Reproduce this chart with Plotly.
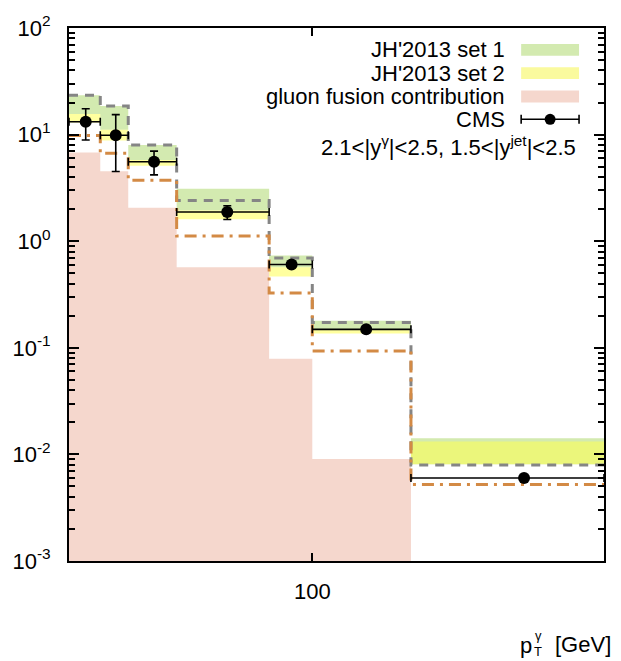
import plotly.graph_objects as go

# pT bin edges [GeV]
edges = [40, 45, 50, 60, 85, 100, 145, 300]

# JH'2013 set 1 band (upper / lower)
set1_hi = [23.4, 18.5, 7.97, 3.10, 0.733, 0.179, 0.0142]
set1_lo = [15.6, 11.1, 5.78, 1.94, 0.570, 0.150, 0.0081]
# JH'2013 set 2 band (upper / lower)
set2_hi = [15.6, 11.1, 5.78, 1.94, 0.570, 0.150, 0.0132]
set2_lo = [13.0, 8.8, 5.11, 1.61, 0.467, 0.136, 0.0081]
# additional predictions drawn as step lines
gray_line = [23.4, 18.5, 7.97, 2.41, 0.696, 0.173, 0.00795]
orange_line = [9.8, 6.67, 3.74, 1.12, 0.327, 0.0935, 0.00521]
# gluon fusion contribution (first six bins)
gluon = [6.81, 4.53, 2.06, 0.570, 0.0788, 0.00904]

# CMS data
cms_x = [42.6, 47.7, 55.1, 72.6, 92.5, 122.5, 222.0]
cms_y = [13.2, 9.87, 5.57, 1.88, 0.604, 0.149, 0.00601]
cms_up = [4.3, 5.53, 1.43, 0.27, 0.03, 0.006, 0.0002]
cms_dn = [4.3, 5.37, 1.38, 0.28, 0.03, 0.006, 0.0002]

x_ticks = [100]
y_ticks = [1e-3, 1e-2, 1e-1, 1e0, 1e1, 1e2]
y_ticktext = ["10<sup>-3</sup>", "10<sup>-2</sup>", "10<sup>-1</sup>",
              "10<sup>0</sup>", "10<sup>1</sup>", "10<sup>2</sup>"]
y_minor = [k * 10.0 ** e for e in range(-3, 2) for k in range(2, 10)]

GREEN = "#d3eab0"
YELLOW = "rgba(255,255,80,0.55)"
PINK = "#f5d7cd"
GRAY = "#858585"
ORANGE = "#d38a45"
FONT = "Liberation Sans, Arial, sans-serif"

L, R, T, B = 68, 604, 24, 561
W_PLOT = R - L
H_PLOT = B - T


def steps(vals):
    xs, ys = [], []
    for i, v in enumerate(vals):
        xs += [edges[i], edges[i + 1]]
        ys += [v, v]
    return xs, ys


fig = go.Figure()

# gluon fusion histogram filled down to the axis
gx, gy = steps(gluon)
gx = gx + [gx[-1], gx[0]]
gy = gy + [1e-3, 1e-3]
fig.add_trace(go.Scatter(x=gx, y=gy, fill="toself", fillcolor=PINK,
                         line=dict(width=0), mode="lines", hoverinfo="skip"))


def band(hi, lo, color):
    xh, yh = steps(hi)
    xl, yl = steps(lo)
    fig.add_trace(go.Scatter(x=xh, y=yh, mode="lines", line=dict(width=0),
                             hoverinfo="skip"))
    fig.add_trace(go.Scatter(x=xl, y=yl, mode="lines", line=dict(width=0),
                             fill="tonexty", fillcolor=color, hoverinfo="skip"))


band(set1_hi, set1_lo, GREEN)
band(set2_hi, set2_lo, YELLOW)

sx, sy = steps(gray_line)
fig.add_trace(go.Scatter(x=sx, y=sy, mode="lines",
                         line=dict(color=GRAY, width=3, dash="9px,7px")))
sx, sy = steps(orange_line)
fig.add_trace(go.Scatter(x=sx, y=sy, mode="lines",
                         line=dict(color=ORANGE, width=3, dash="12px,6px,3px,6px")))

# CMS points with bin-width horizontal bars
xlo = [cms_x[i] - edges[i] for i in range(len(cms_x))]
xhi = [edges[i + 1] - cms_x[i] for i in range(len(cms_x))]
fig.add_trace(go.Scatter(
    x=cms_x, y=cms_y, mode="markers",
    marker=dict(color="black", size=12, symbol="circle"),
    error_y=dict(type="data", symmetric=False, array=cms_up, arrayminus=cms_dn,
                 color="black", thickness=1.6, width=4),
    error_x=dict(type="data", symmetric=False, array=xhi, arrayminus=xlo,
                 color="black", thickness=1.6, width=4),
))


def px(xp):
    return (xp - L) / W_PLOT


def py(yp):
    return (B - yp) / H_PLOT


shapes = []
annotations = []

rows = [("JH'2013 set 1", 46, GREEN), ("JH'2013 set 2", 69.5, "#fafa9e"),
        ("gluon fusion contribution", 93, PINK)]
for text, yc, col in rows:
    annotations.append(dict(x=px(507), y=py(yc), xref="paper", yref="paper",
                            text=text, showarrow=False, xanchor="right",
                            yanchor="middle", font=dict(size=22, color="black", family=FONT)))
    shapes.append(dict(type="rect", xref="paper", yref="paper",
                       x0=px(521), x1=px(579), y0=py(yc + 6), y1=py(yc - 6),
                       fillcolor=col, line=dict(width=0)))

yc = 116
annotations.append(dict(x=px(507), y=py(yc), xref="paper", yref="paper",
                        text="CMS", showarrow=False, xanchor="right",
                        yanchor="middle", font=dict(size=22, color="black", family=FONT)))
shapes.append(dict(type="line", xref="paper", yref="paper", x0=px(521), x1=px(579),
                   y0=py(yc), y1=py(yc), line=dict(color="black", width=1.6)))
for xe in (521, 579):
    shapes.append(dict(type="line", xref="paper", yref="paper", x0=px(xe), x1=px(xe),
                       y0=py(yc - 4.5), y1=py(yc + 4.5), line=dict(color="black", width=1.6)))
shapes.append(dict(type="circle", xref="paper", yref="paper",
                   x0=px(544.5), x1=px(555.5), y0=py(yc + 5.5), y1=py(yc - 5.5),
                   fillcolor="black", line=dict(color="black", width=0)))

annotations.append(dict(x=px(578), y=py(143), xref="paper", yref="paper",
                        text="2.1<|y<sup>γ</sup>|<2.5, 1.5<|y<sup>jet</sup>|<2.5",
                        showarrow=False, xanchor="right", yanchor="middle",
                        font=dict(size=22, color="black", family=FONT)))

# x-axis title: p_T^gamma [GeV]
annotations += [
    dict(x=px(526), y=py(646), xref="paper", yref="paper", text="p", showarrow=False,
         xanchor="center", yanchor="middle", font=dict(size=22, color="black", family=FONT)),
    dict(x=px(538), y=py(636), xref="paper", yref="paper", text="γ", showarrow=False,
         xanchor="center", yanchor="middle", font=dict(size=13, color="black", family=FONT)),
    dict(x=px(538), y=py(652), xref="paper", yref="paper", text="T", showarrow=False,
         xanchor="center", yanchor="middle", font=dict(size=13, color="black", family=FONT)),
    dict(x=px(553), y=py(645), xref="paper", yref="paper", text="[GeV]", showarrow=False,
         xanchor="left", yanchor="middle", font=dict(size=22, color="black", family=FONT)),
]

fig.update_layout(
    width=621, height=661,
    margin=dict(l=L, r=621 - R, t=T, b=661 - B),
    paper_bgcolor="white", plot_bgcolor="white",
    showlegend=False,
    font=dict(family=FONT, size=22, color="black"),
    shapes=shapes, annotations=annotations,
)
fig.update_xaxes(type="log", range=[1.60206, 2.4771213], tickmode="array",
                 tickvals=x_ticks, ticktext=["100"], ticks="inside", ticklen=8,
                 tickwidth=2, tickcolor="black", showline=True, linewidth=2,
                 linecolor="black", mirror="ticks", showgrid=False, zeroline=False,
                 ticklabelstandoff=10, tickfont=dict(size=22, family=FONT))
fig.update_yaxes(type="log", range=[-3, 2], tickmode="array", tickvals=y_ticks,
                 ticktext=y_ticktext, ticks="inside", ticklen=10, tickwidth=2,
                 tickcolor="black", showline=True, linewidth=2, linecolor="black",
                 mirror="ticks", showgrid=False, zeroline=False,
                 ticklabelstandoff=12, tickfont=dict(size=22, family=FONT),
                 minor=dict(tickmode="array", tickvals=y_minor, ticks="inside",
                            ticklen=6, tickwidth=2, tickcolor="black",
                            showgrid=False))

fig.write_html("out.html")
